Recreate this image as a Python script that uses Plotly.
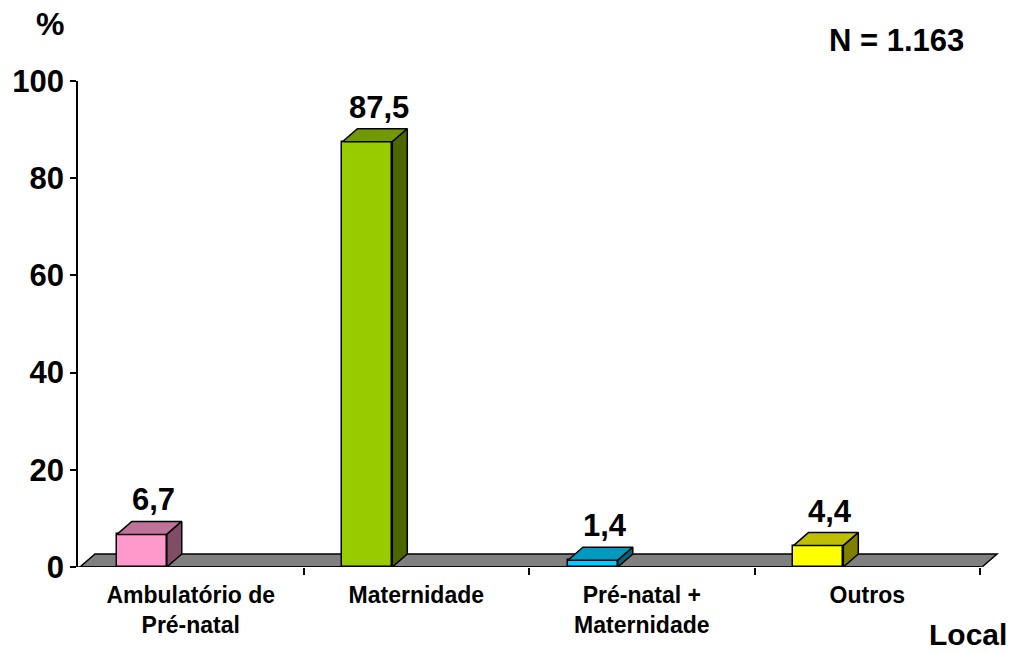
import plotly.graph_objects as go

categories = ["Ambulatório de<br>Pré-natal", "Maternidade", "Pré-natal +<br>Maternidade", "Outros"]
values = [6.7, 87.5, 1.4, 4.4]
value_labels = ["6,7", "87,5", "1,4", "4,4"]
front_colors = ["#FF99CC", "#99CC00", "#00CCFF", "#FFFF00"]
top_colors = ["#BF7399", "#739900", "#0099BF", "#BFBF00"]
side_colors = ["#804C66", "#4C6600", "#006680", "#808000"]
y_ticks = [0, 20, 40, 60, 80, 100]

W, H = 1018, 653
ML, MR, MT, MB = 76, 18, 81, 86
PW, PH = W - ML - MR, H - MT - MB
XR = [-0.5, -0.5 + PW / 226.0]
YR = [0, 100]

def px2paper_x(px):
    return (px - ML) / PW

def px2paper_y(py):
    return (H - MB - py) / PH

ux = (XR[1] - XR[0]) / PW   # data units per px
uy = (YR[1] - YR[0]) / PH
bw = 50 * ux
boff = -49 * ux
dx = 15 * ux
dy = 13 * uy

fig = go.Figure()

xs = list(range(len(values)))
fig.add_trace(go.Bar(
    x=xs, y=values, width=bw, offset=boff - bw / 2,
    marker=dict(color=front_colors, line=dict(color="black", width=1.5)),
    cliponaxis=False, showlegend=False, hoverinfo="skip"))

for i, v in enumerate(values):
    xl = i + boff - bw / 2
    xr = i + boff + bw / 2
    fig.add_trace(go.Scatter(
        x=[xl, xr, xr + dx, xl + dx, xl], y=[v, v, v + dy, v + dy, v],
        fill="toself", fillcolor=top_colors[i], mode="lines",
        line=dict(color="black", width=1.5), showlegend=False, hoverinfo="skip"))
    fig.add_trace(go.Scatter(
        x=[xr, xr, xr + dx, xr + dx, xr], y=[0, v, v + dy, dy, 0],
        fill="toself", fillcolor=side_colors[i], mode="lines",
        line=dict(color="black", width=1.5), showlegend=False, hoverinfo="skip"))
    fig.add_annotation(x=i + boff + 12 * ux, y=v + dy, text=value_labels[i],
                       showarrow=False, yanchor="bottom", yshift=2,
                       font=dict(size=31, family="Liberation Sans, Arial", weight="bold", color="black"))

# x axis line
fig.add_trace(go.Scatter(x=[XR[0], 3.5], y=[0, 0], mode="lines",
                         line=dict(color="black", width=1.5), showlegend=False,
                         hoverinfo="skip", cliponaxis=False))

# floor
fx0 = XR[0] + 2 * ux
fx1 = 3.5 + 2 * ux
fig.add_shape(type="path", layer="below", xref="x", yref="y",
              path=f"M {fx0},0 L {fx1},0 L {fx1 + dx},{dy} L {fx0 + dx},{dy} Z",
              fillcolor="#808080", line=dict(color="black", width=1.5))

fig.update_layout(
    width=W, height=H, margin=dict(l=ML, r=MR, t=MT, b=MB),
    plot_bgcolor="white", paper_bgcolor="white",
    font=dict(family="Liberation Sans, Arial", color="black"),
    bargap=0,
    xaxis=dict(range=XR, showgrid=False, zeroline=False, showline=False,
               tickvals=xs, ticktext=categories, ticks="",
               ticklabelstandoff=12,
               tickfont=dict(size=23, weight="bold"),
               minor=dict(tickvals=[0.5, 1.5, 2.5, 3.5], ticks="outside", ticklen=7,
                          tickwidth=1.5, tickcolor="black")),
    yaxis=dict(range=YR, showgrid=False, zeroline=False, showline=True,
               linecolor="black", linewidth=1.5, ticks="outside", ticklen=6,
               tickwidth=1.5, tickcolor="black", tickvals=y_ticks,
               tickfont=dict(size=31, weight="bold")),
)

for txt, cx, cy, sz, ya in [("%", 48, 24, 32, "middle"), ("N = 1.163", 896, 41, 31, "middle"),
                            ("Local", 968, 652, 30, "bottom")]:
    fig.add_annotation(xref="paper", yref="paper", x=px2paper_x(cx), y=px2paper_y(cy),
                       xanchor="center", yanchor=ya,
                       text=txt, showarrow=False, borderpad=0,
                       font=dict(size=sz, weight="bold"))

fig.write_html("out.html")
